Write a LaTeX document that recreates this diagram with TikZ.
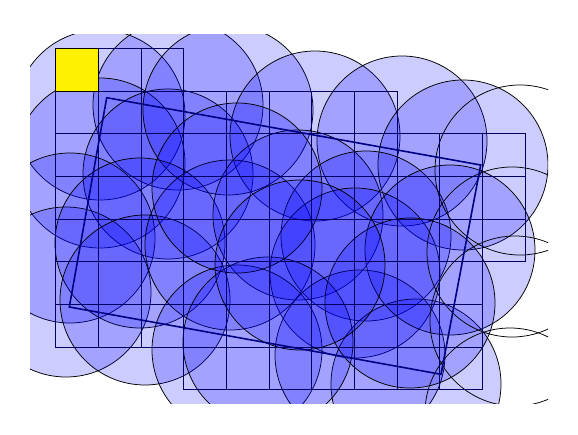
\documentclass[tikz,border=0pt]{standalone}
\begin{document}
\begin{tikzpicture}[x=1pt,y=-1pt,
  cov/.style={fill=blue,fill opacity=0.2,draw=black,draw opacity=1,line width=0.75pt},
  ring/.style={draw=black,line width=0.75pt},
  cell/.style={draw={rgb,255:red,0;green,0;blue,100},line width=0.8pt},
  start/.style={fill=yellow,draw=black,line width=0.8pt},
  frame/.style={draw={rgb,255:red,0;green,0;blue,130},line width=1.6pt,line join=miter}]
\useasboundingbox (0,0) rectangle (578,434);
\begin{scope}
\clip (30,34) rectangle (548,403);
\foreach \cx/\cy in {100/115,178/105,100/163,168/174,228/110,315/136,402/141,463/165,
  70/238,66/292,140/243,145/300,230/245,298/215,366/236,355/273,237/350,360/355,
  416/384,268/342,450/250,410/303,237/188,300/265}
  \path[cov] (\cx,\cy) circle (85);
\foreach \cx/\cy in {520/170,512/252,515/321,510/413}
  \path[ring] (\cx,\cy) circle (85);
\end{scope}
% grid cells
\def\gx{55.6}\def\gy{48.3}\def\gs{42.67}
\foreach \r/\a/\b in {0/0/2,1/0/7,2/0/10,3/0/10,4/0/10,5/0/9,6/0/9,7/3/9}
  \foreach \c in {\a,...,\b}
    \path[cell] ({\gx+\c*\gs},{\gy+\r*\gs}) rectangle ++(\gs,\gs);
\path[start] (\gx,\gy) rectangle ++(\gs,\gs);
\coordinate (p1) at (106.7,97.7);
\coordinate (p2) at (480.7,165);
\coordinate (p3) at (441,374.3);
\coordinate (p4) at (69.3,307);
\draw[frame] (p1) -- (p2) -- (p3) -- (p4) -- cycle;
\end{tikzpicture}
\end{document}
